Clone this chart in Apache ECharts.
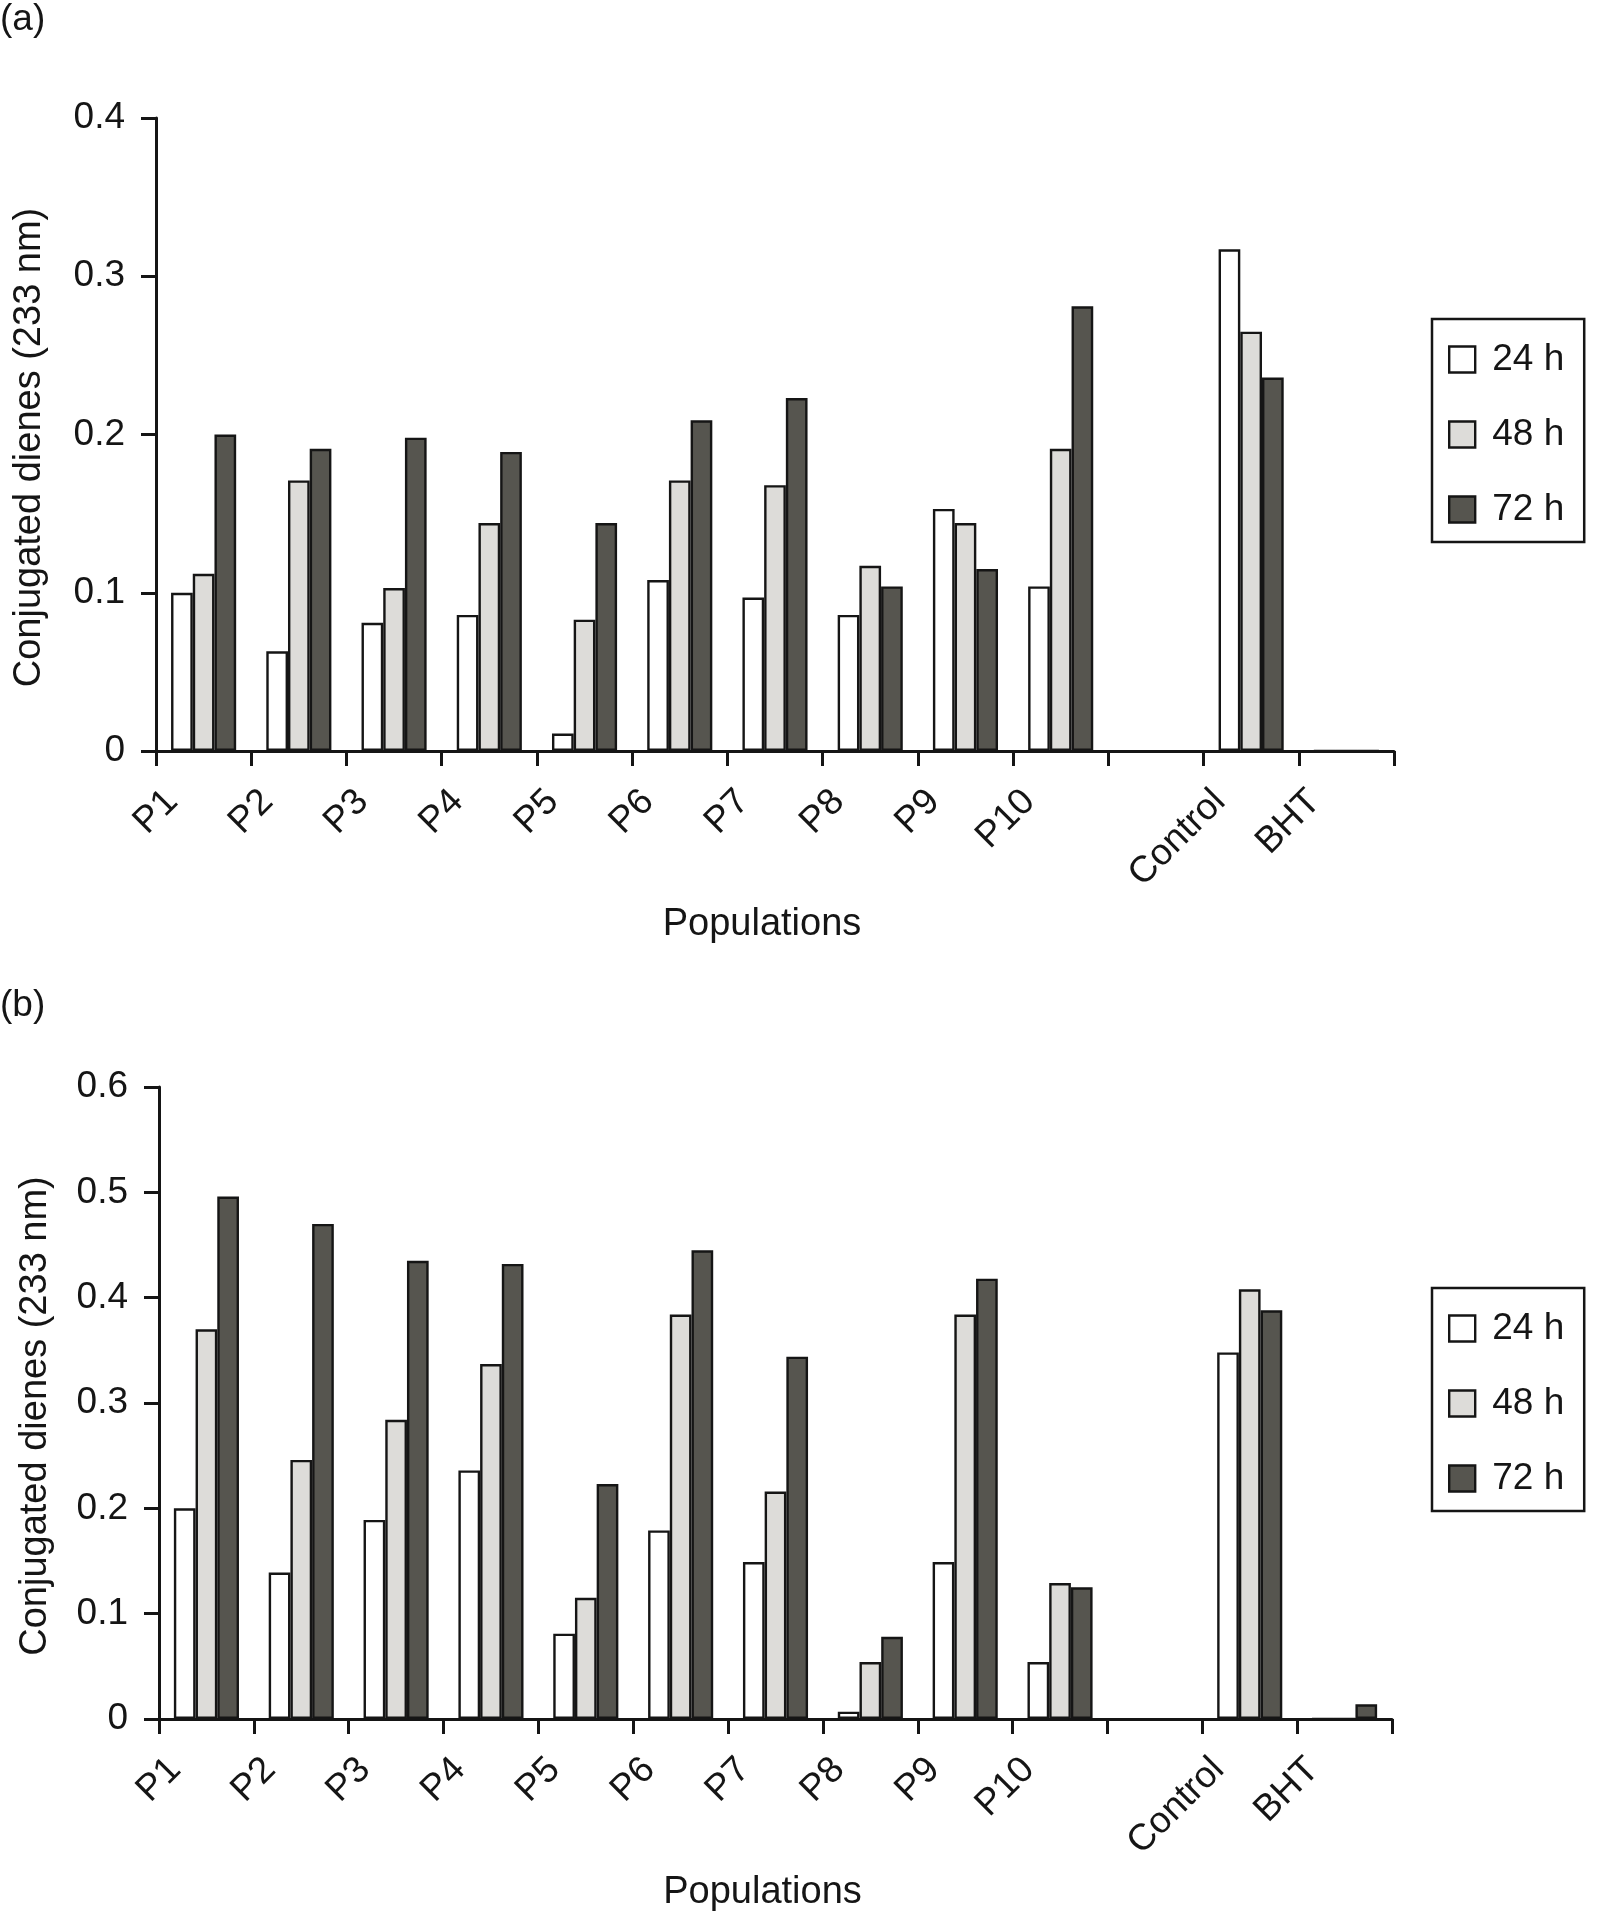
<!DOCTYPE html>
<html>
<head>
<meta charset="utf-8">
<script src="https://cdn.jsdelivr.net/npm/echarts@6/dist/echarts.min.js"></script>
<style>
  html, body { margin: 0; padding: 0; background: #fff; }
  #chart { width: 1602px; height: 1914px; }
</style>
</head>
<body>
<div id="chart"></div>
<script>
// categories (the empty one is the gap between P10 and Control)
var populations = ['P1', 'P2', 'P3', 'P4', 'P5', 'P6', 'P7', 'P8', 'P9', 'P10', '', 'Control', 'BHT'];
var seriesNames = ['24 h', '48 h', '72 h'];

// panel (a)
var a24 = [0.100, 0.063, 0.081, 0.086, 0.011, 0.108, 0.097, 0.086, 0.153, 0.104, null, 0.317, 0];
var a48 = [0.112, 0.171, 0.103, 0.144, 0.083, 0.171, 0.168, 0.117, 0.144, 0.191, null, 0.265, 0];
var a72 = [0.200, 0.191, 0.198, 0.189, 0.144, 0.209, 0.223, 0.104, 0.115, 0.281, null, 0.236, 0];

// panel (b)
var b24 = [0.200, 0.139, 0.189, 0.236, 0.081, 0.179, 0.149, 0.007, 0.149, 0.054, null, 0.348, 0];
var b48 = [0.370, 0.246, 0.284, 0.337, 0.115, 0.384, 0.216, 0.054, 0.384, 0.129, null, 0.408, 0];
var b72 = [0.496, 0.470, 0.435, 0.432, 0.223, 0.445, 0.344, 0.078, 0.418, 0.125, null, 0.388, 0.014];

var yMaxA = 0.4, yMaxB = 0.6, yStep = 0.1;

var FONT = '"Liberation Sans", Arial, Helvetica, sans-serif';
var INK = '#151515';
var fills = ['#ffffff', '#dddcd9', '#56554f'];

var myChart = echarts.init(document.getElementById('chart'));

function fmtY(v) {
    return v === 0 ? '0' : v.toFixed(1);
}

// grid boxes: 0 = (a), 1 = (b), 2/3 = label layers shifted right
var gridA = { left: 156, top: 118, width: 1238, height: 633 };
var gridB = { left: 159, top: 1087, width: 1233, height: 632 };

function shifted(g) {
    return { left: g.left + 16, top: g.top, width: g.width, height: g.height };
}

function catAxis(gi) {
    return { gridIndex: gi, type: 'category', data: populations, show: false };
}

function tickAxis(gi) {
    return {
        gridIndex: gi, type: 'value', min: 0, max: populations.length, interval: 1,
        position: 'bottom', z: 5,
        axisLine: { show: true, lineStyle: { color: INK, width: 3 } },
        axisTick: { show: true, length: 15, inside: false, lineStyle: { color: INK, width: 3 } },
        axisLabel: { show: false },
        splitLine: { show: false },
        name: 'Populations', nameLocation: 'middle', nameGap: 155,
        nameTextStyle: { fontFamily: FONT, fontSize: 38, color: INK, padding: [0, 26, 0, 0] }
    };
}

function labelAxis(gi) {
    return {
        gridIndex: gi, type: 'value', min: 0, max: populations.length, interval: 1,
        position: 'bottom',
        axisLine: { show: false }, axisTick: { show: false }, splitLine: { show: false },
        axisLabel: {
            show: true, rotate: 45, margin: 45, showMinLabel: true, showMaxLabel: true,
            fontFamily: FONT, fontSize: 37, color: INK,
            formatter: function (v) { return populations[v] || ''; }
        }
    };
}

function valAxis(gi, max, gap) {
    return {
        gridIndex: gi, type: 'value', min: 0, max: max, interval: yStep,
        axisLine: { show: true, lineStyle: { color: INK, width: 3 } },
        axisTick: { show: true, length: 15, lineStyle: { color: INK, width: 3 } },
        axisLabel: { fontFamily: FONT, fontSize: 37, color: INK, margin: 31, formatter: fmtY },
        splitLine: { show: false },
        name: 'Conjugated dienes (233 nm)', nameLocation: 'middle', nameGap: gap,
        nameTextStyle: { fontFamily: FONT, fontSize: 38, color: INK, padding: [0, 26, 0, 0] }
    };
}

function hiddenY(gi) {
    return { gridIndex: gi, type: 'value', show: false, min: 0, max: 1 };
}

function bars(name, data, xi, yi, k) {
    return {
        name: name, type: 'bar', xAxisIndex: xi, yAxisIndex: yi, data: data,
        barWidth: 21.7, barGap: '0%',
        itemStyle: { color: fills[k], borderColor: INK, borderWidth: 2.4 },
        emphasis: { disabled: true }, silent: true
    };
}

function legendAt(top) {
    return {
        orient: 'vertical', left: 1432, top: top, selectedMode: false,
        data: seriesNames, icon: 'rect', itemWidth: 26, itemHeight: 26, itemGap: 38,
        borderColor: INK, borderWidth: 2.5, padding: [22, 20, 14, 16],
        itemStyle: { borderColor: INK, borderWidth: 2.4 },
        textStyle: { fontFamily: FONT, fontSize: 37, color: INK, padding: [0, 0, 0, 12] }
    };
}

var option = {
    backgroundColor: '#ffffff',
    animation: false,
    title: [
        { text: '(a)', left: 0, top: 1, padding: 0, textStyle: { fontFamily: FONT, fontSize: 37, fontWeight: 'normal', color: INK } },
        { text: '(b)', left: 0, top: 987, padding: 0, textStyle: { fontFamily: FONT, fontSize: 37, fontWeight: 'normal', color: INK } }
    ],
    legend: [legendAt(319), legendAt(1288)],
    grid: [gridA, gridB, shifted(gridA), shifted(gridB)],
    xAxis: [catAxis(0), tickAxis(0), labelAxis(2), catAxis(1), tickAxis(1), labelAxis(3)],
    yAxis: [valAxis(0, yMaxA, 107), valAxis(1, yMaxB, 104), hiddenY(2), hiddenY(3)],
    series: [
        bars(seriesNames[0], a24, 0, 0, 0),
        bars(seriesNames[1], a48, 0, 0, 1),
        bars(seriesNames[2], a72, 0, 0, 2),
        bars(seriesNames[0], b24, 3, 1, 0),
        bars(seriesNames[1], b48, 3, 1, 1),
        bars(seriesNames[2], b72, 3, 1, 2)
    ]
};

myChart.setOption(option);
</script>
</body>
</html>
